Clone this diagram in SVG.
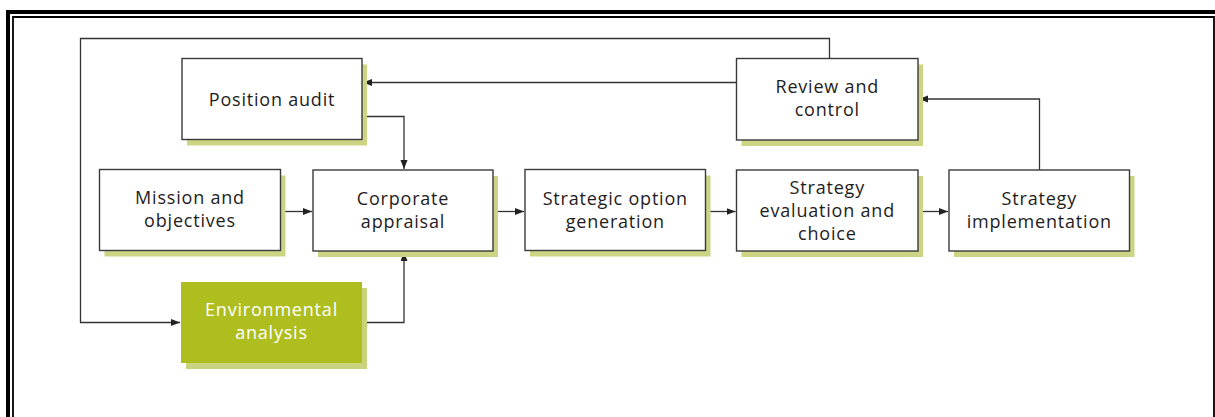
<svg xmlns="http://www.w3.org/2000/svg" width="1215" height="417" viewBox="0 0 1215 417">
<defs>
<style>
.box{fill:#fff;stroke:#3a3a3a;stroke-width:1.4}
.sh{fill:#cdd585}
.env{fill:#afbe1f}
.envsh{fill:#c9d27c}
.t{font-family:"Open Sans","Noto Sans",sans-serif;font-size:18px;letter-spacing:0.8px;fill:#1f1c1d;text-anchor:middle}
.tw{fill:#fff}
.c{fill:none;stroke:#333;stroke-width:1.3}
</style>
<marker id="ah" markerUnits="userSpaceOnUse" markerWidth="10" markerHeight="8" refX="9" refY="3.5" orient="auto">
<path d="M0,0 L9,3.5 L0,7 z" fill="#222"/>
</marker>
</defs>
<rect width="1215" height="417" fill="#fff"/>
<g id="frame">
<path d="M8,417 V12 H1215" fill="none" stroke="#000" stroke-width="4"/>
<path d="M13,417 V17 H1214 V417" fill="none" stroke="#000" stroke-width="1.8"/>
</g>
<g id="connectors">
<path class="c" d="M736.5,82.5 H363" marker-end="url(#ah)"/>
<path class="c" d="M362,116.5 H404 V169" marker-end="url(#ah)"/>
<path class="c" d="M280.5,211.5 H312" marker-end="url(#ah)"/>
<path class="c" d="M362,322.5 H404 V252" marker-end="url(#ah)"/>
<path class="c" d="M493,211.5 H524" marker-end="url(#ah)"/>
<path class="c" d="M705.5,211.5 H735.5" marker-end="url(#ah)"/>
<path class="c" d="M918,211.5 H948" marker-end="url(#ah)"/>
<path class="c" d="M1039.5,170 V99 H919" marker-end="url(#ah)"/>
<path class="c" d="M829.5,58.5 V38.5 H80.5 V322.5 H180" marker-end="url(#ah)"/>
</g>
<g id="position-audit">
<rect class="sh" x="187" y="64.5" width="180" height="81"/>
<rect class="box" x="182" y="58.5" width="180" height="81"/>
<text class="t" x="272" y="105.5">Position audit</text>
</g>
<g id="review-control">
<rect class="sh" x="741.5" y="64.5" width="181.5" height="81.5"/>
<rect class="box" x="736.5" y="58.5" width="181.5" height="81.5"/>
<text class="t" x="827.3" y="93"><tspan x="827.3">Review and</tspan><tspan x="827.3" dy="23.3">control</tspan></text>
</g>
<g id="mission">
<rect class="sh" x="104.5" y="175.5" width="181" height="81"/>
<rect class="box" x="99.5" y="169.5" width="181" height="81"/>
<text class="t" x="190" y="204"><tspan x="190">Mission and</tspan><tspan x="190" dy="23.3">objectives</tspan></text>
</g>
<g id="corporate-appraisal">
<rect class="sh" x="318" y="176" width="180" height="81"/>
<rect class="box" x="313" y="170" width="180" height="81"/>
<text class="t" x="403" y="204.5"><tspan x="403">Corporate</tspan><tspan x="403" dy="23.3">appraisal</tspan></text>
</g>
<g id="strategic-option">
<rect class="sh" x="530" y="175.5" width="180.5" height="81"/>
<rect class="box" x="525" y="169.5" width="180.5" height="81"/>
<text class="t" x="615.3" y="204.5"><tspan x="615.3">Strategic option</tspan><tspan x="615.3" dy="23.3">generation</tspan></text>
</g>
<g id="strategy-evaluation">
<rect class="sh" x="741.5" y="176" width="181.5" height="81"/>
<rect class="box" x="736.5" y="170" width="181.5" height="81"/>
<text class="t" x="827.3" y="193.5"><tspan x="827.3">Strategy</tspan><tspan x="827.3" dy="23.3">evaluation and</tspan><tspan x="827.3" dy="23.3">choice</tspan></text>
</g>
<g id="strategy-implementation">
<rect class="sh" x="954" y="176" width="180.5" height="81"/>
<rect class="box" x="949" y="170" width="180.5" height="81"/>
<text class="t" x="1039.3" y="204.5"><tspan x="1039.3">Strategy</tspan><tspan x="1039.3" dy="23.3">implementation</tspan></text>
</g>
<g id="environmental-analysis">
<rect class="envsh" x="186" y="288" width="181" height="81"/>
<rect class="env" x="181" y="282" width="181" height="81"/>
<text class="t tw" x="271.5" y="316"><tspan x="271.5">Environmental</tspan><tspan x="271.5" dy="23.3">analysis</tspan></text>
</g>
</svg>
